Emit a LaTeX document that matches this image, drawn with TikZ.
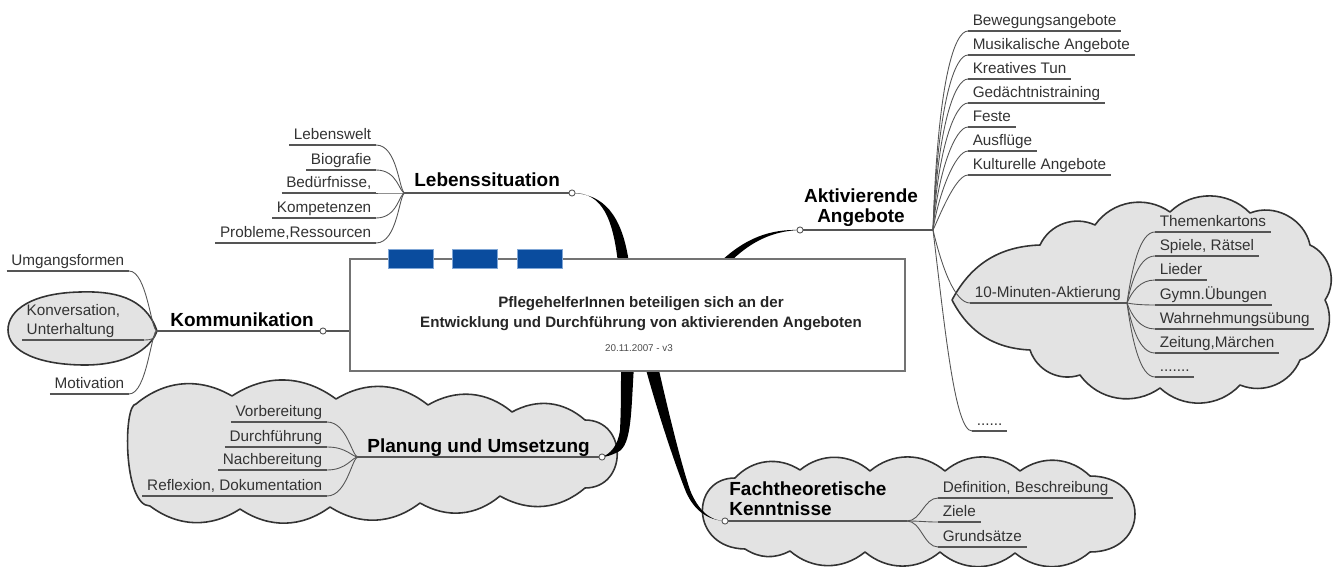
\documentclass[tikz,border=0pt]{standalone}
\usepackage{fontspec}
\setmainfont{Liberation Sans}
\usetikzlibrary{positioning}

\definecolor{cloudfill}{HTML}{E3E3E3}
\definecolor{wire}{HTML}{555555}
\definecolor{ink}{HTML}{333333}
\definecolor{barblue}{HTML}{0A4C9E}
\definecolor{barrim}{HTML}{7FA6D6}

\tikzset{
  leaf/.style={font=\fontsize{8.7}{10.4}\selectfont, text=ink, inner xsep=2.5pt, inner ysep=1.3pt},
  lleaf/.style={leaf, text height=6.4pt, text depth=1.9pt, anchor=south east},
  rleaf/.style={leaf, text height=6.4pt, text depth=1.9pt, anchor=south west},
  topic/.style={font=\fontsize{10.8}{11.6}\selectfont\bfseries, inner sep=0pt},
  uline/.style={draw=wire, line width=0.6pt},
  twig/.style={draw=wire, line width=0.5pt},
  knob/.style={circle, draw=wire, fill=white, inner sep=0pt, minimum size=3.5pt, line width=0.5pt},
  puff/.style={draw=black!80, fill=cloudfill, line width=0.9pt, line join=round},
  trunk/.style={fill=black},
  bar/.style={draw=barrim, fill=barblue, line width=0.4pt, minimum width=0.9cm, minimum height=0.38cm, inner sep=0pt},
}

\begin{document}
\begin{tikzpicture}[x=0.02cm, y=-0.02cm]
  \useasboundingbox (0,0) rectangle (1341,567);

  % clouds
  \draw[puff] (136,404) to[bend left=35] (232,396) to[bend left=35] (336,399) to[bend left=35] (428,405)
    to[bend left=35] (512,412) to[bend left=35] (585,420) .. controls (628,420) and (628,488) .. (585,488)
    to[bend left=35] (500,496) to[bend left=35] (420,503) to[bend left=35] (330,507)
    to[bend left=35] (240,509) to[bend left=35] (150,506) .. controls (123,506) and (123,404) .. (136,404) -- cycle;
  \draw[puff] (952,300) to[bend left=30] (1040,245) to[bend left=45] (1095,225) to[bend left=45] (1170,212)
    to[bend left=45] (1250,213) to[bend left=50] (1310,245) to[bend left=50] (1325,300) to[bend left=50] (1300,360)
    to[bend left=45] (1240,385) to[bend left=45] (1160,388) to[bend left=45] (1080,375) to[bend left=45] (1030,350)
    to[bend left=30] (952,300) -- cycle;
  \draw[puff] (735,478) to[bend left=40] (800,470) to[bend left=40] (870,471) to[bend left=40] (945,471)
    to[bend left=40] (1020,471) to[bend left=40] (1090,476) .. controls (1150,476) and (1150,552) .. (1090,552)
    to[bend left=40] (1015,553) to[bend left=40] (940,552) to[bend left=40] (865,552) to[bend left=40] (790,551)
    to[bend left=30] (745,549) .. controls (690,548) and (690,478) .. (735,478) -- cycle;
  \draw[puff]
    (157,331) .. controls (145,296) and (112,291) .. (80,292)
    .. controls (32,293) and (8,310) .. (8,330)
    .. controls (8,352) and (40,365) .. (85,365)
    .. controls (125,365) and (150,350) .. (157,331);

  % fan points and branch ends
  \coordinate (hL) at (405,193);
  \coordinate (eL) at (572,193);
  \coordinate (hK) at (157,331);
  \coordinate (eK) at (323,331);
  \coordinate (hP) at (358,457);
  \coordinate (eP) at (602,457);
  \coordinate (hA) at (933,230);
  \coordinate (eA) at (800,230);
  \coordinate (hF) at (907,521);
  \coordinate (eF) at (725,521);
  \coordinate (hZ) at (1127,303);

  % main branches
  \fill[trunk] (eL) .. controls (603,192) and (613,220) .. (618,263) -- (629,263)
    .. controls (622,214) and (603,194) .. (eL) -- cycle;
  \fill[trunk] (eA) .. controls (770,229) and (745,238) .. (719,263) -- (729,263)
    .. controls (750,242) and (772,231) .. (eA) -- cycle;
  \fill[trunk] (621,366) -- (634,366) .. controls (631,410) and (632,445) .. (618,452)
    .. controls (612,455) and (606,457) .. (eP) .. controls (610,454) and (618,446) .. (620,430)
    .. controls (621,410) and (621,390) .. (621,366) -- cycle;
  \fill[trunk] (645,366) -- (658,366) .. controls (668,410) and (680,460) .. (690,490)
    .. controls (698,510) and (710,521) .. (eF) .. controls (707,520) and (694,510) .. (686,492)
    .. controls (674,462) and (657,410) .. (645,366) -- cycle;

  % central topic
  \node[draw=black!55, fill=white, line width=0.8pt, minimum width=11.1cm, minimum height=2.24cm, inner sep=0pt] (ctr) at (627.5,315) {};
  \node[font=\fontsize{8.6}{11.4}\selectfont\bfseries, align=center, text=black!85, inner sep=0pt, anchor=north] (goal) at (641,296)
    {PflegehelferInnen beteiligen sich an der\\Entwicklung und Durchführung von aktivierenden Angeboten};
  \node[font=\fontsize{5.6}{6}\selectfont, text=black!70] (stamp) at (639,348) {20.11.2007 - v3};
  \foreach \i/\x in {1/410.5, 2/475, 3/540}
    \node[bar] (bar\i) at (\x,258.5) {};
  \draw[draw=wire, line width=0.9pt] (eK) -- (ctr.west |- eK);

  % Lebenssituation
  \node[topic, anchor=base west] (leben) at (414,187) {Lebenssituation};
  \draw[uline] (hL) -- (eL);
  \foreach \n/\y/\t in {l1/145/Lebenswelt, l2/170/Biografie, l3/193/{Bedürfnisse,}, l4/218/Kompetenzen, l5/243/{Probleme,Ressourcen}}
  {
    \node[lleaf] (\n) at (376,\y) {\t};
    \draw[uline] (\n.south west) -- (\n.south east);
    \draw[twig] (\n.south east) .. controls +(22,0) and +(-6,0) .. (hL);
  }

  % Kommunikation
  \node[topic, anchor=base west] (komm) at (170,326) {Kommunikation};
  \draw[uline] (hK) -- (eK);
  \node[lleaf] (k1) at (129,271) {Umgangsformen};
  \node[leaf, anchor=south west, align=left, text width=2.25cm] (k2) at (22,340) {Konversation,\\Unterhaltung};
  \node[lleaf] (k3) at (129,394) {Motivation};
  \foreach \n in {k1,k2,k3}
  {
    \draw[uline] (\n.south west) -- (\n.south east);
    \draw[twig] (\n.south east) .. controls +(18,0) and +(-6,0) .. (hK);
  }

  % Planung und Umsetzung
  \node[topic, anchor=base west] (plan) at (367,452) {Planung und Umsetzung};
  \draw[uline] (hP) -- (eP);
  \foreach \n/\y/\t in {p1/422/Vorbereitung, p2/447/Durchführung, p3/470/Nachbereitung, p4/496/{Reflexion, Dokumentation}}
  {
    \node[lleaf] (\n) at (327,\y) {\t};
    \draw[uline] (\n.south west) -- (\n.south east);
    \draw[twig] (\n.south east) .. controls +(20,0) and +(-6,0) .. (hP);
  }

  % Aktivierende Angebote
  \node[topic, align=center, anchor=north] (aktiv) at (861,188) {Aktivierende\\Angebote};
  \draw[uline] (eA) -- (hA);
  \foreach \n/\y/\t in {a1/31/Bewegungsangebote, a2/55/Musikalische Angebote, a3/79/Kreatives Tun, a4/103/Gedächtnistraining, a5/127/Feste, a6/151/Ausflüge, a7/175/Kulturelle Angebote}
  {
    \node[rleaf] (\n) at (968,\y) {\t};
    \draw[uline] (\n.south west) -- (\n.south east);
    \draw[twig] (hA) .. controls (938,{\y+45}) and (955,\y) .. (\n.south west);
  }
  \node[rleaf] (zehn) at (970,303) {10-Minuten-Aktierung};
  \draw[uline] (zehn.south west) -- (hZ);
  \draw[twig] (hA) .. controls (942,268) and (955,303) .. (zehn.south west);
  \node[rleaf] (a8) at (972,431) {......};
  \draw[uline] (a8.south west) -- (a8.south east);
  \draw[twig] (hA) .. controls (945,330) and (955,431) .. (a8.south west);

  % 10-Minuten-Aktierung
  \foreach \n/\y/\t in {z1/232/Themenkartons, z2/256/{Spiele, Rätsel}, z3/280/Lieder, z4/305/Gymn.Übungen, z5/329/Wahrnehmungsübung, z6/353/{Zeitung,Märchen}}
  {
    \node[rleaf] (\n) at (1155,\y) {\t};
    \draw[uline] (\n.south west) -- (\n.south east);
    \draw[twig] (hZ) .. controls (1132,{(303+\y)/2}) and (1140,\y) .. (\n.south west);
  }
  \node[rleaf] (z7) at (1155,377) {.......};
  \draw[uline] (z7.south west) -- (z7.south east);
  \draw[twig] (hZ) .. controls (1132,340) and (1140,377) .. (z7.south west);

  % Fachtheoretische Kenntnisse
  \node[topic, align=left, anchor=north west] (fach) at (729,481) {Fachtheoretische\\Kenntnisse};
  \draw[uline] (eF) -- (hF);
  \foreach \n/\y/\t in {f1/498/{Definition, Beschreibung}, f2/522/Ziele, f3/547/Grundsätze}
  {
    \node[rleaf] (\n) at (938,\y) {\t};
    \draw[uline] (\n.south west) -- (\n.south east);
    \draw[twig] (hF) .. controls +(14,0) and +(-14,0) .. (\n.south west);
  }

  % branch knobs
  \foreach \c in {eL,eA,eK,eP,eF}
    \node[knob] (knob-\c) at (\c) {};
\end{tikzpicture}
\end{document}
